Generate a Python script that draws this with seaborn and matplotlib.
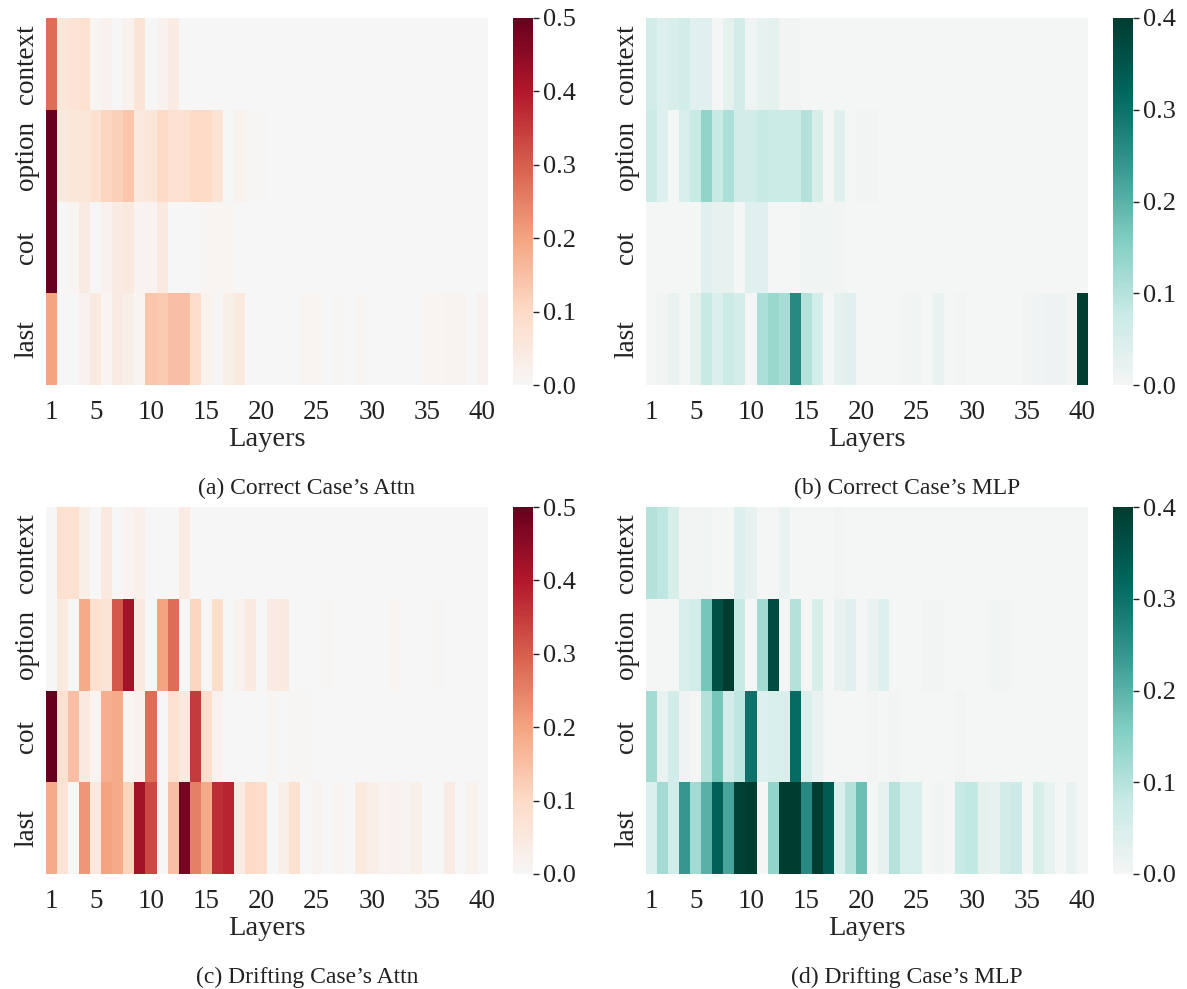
import numpy as np
import pandas as pd
import matplotlib
matplotlib.use("Agg")
import matplotlib.pyplot as plt
import seaborn as sns

sns.set_style("white")
plt.rcParams['font.family'] = ['Liberation Serif', 'DejaVu Serif']
plt.rcParams['text.color'] = '#222222'
plt.rcParams['xtick.color'] = '#222222'
plt.rcParams['ytick.color'] = '#222222'

# 数据
layers = list(range(1, 41))
positions = ["context", "option", "cot", "last"]
shown_layers = [1, 5, 10, 15, 20, 25, 30, 35, 40]

# (a) correct case attn
ca_context = [0.28, 0.06, 0.07, 0.08, 0.01, 0.02, 0, 0.02, 0.07, 0, 0.02, 0.04] + [0] * 28
ca_option = [0.5, 0.05, 0.06, 0.06, 0.08, 0.11, 0.12, 0.14, 0.05, 0.06,
             0.10, 0.08, 0.08, 0.10, 0.10, 0.07, 0, 0.02, 0.005, 0.005] + [0] * 20
ca_cot = [0.5, 0, 0.01, 0.04, 0, 0.02, 0.04, 0.05, 0.015, 0.015,
          0.05, 0, 0, 0, 0.01, 0.01, 0.01, 0, 0, 0] + [0] * 20
ca_last = [0.2, 0, 0, 0.02, 0.05, 0.01, 0.04, 0.03, 0.01, 0.14,
           0.13, 0.15, 0.15, 0.09, 0.02, 0.005, 0.03, 0.05, 0, 0,
           0, 0, 0, 0.01, 0.01, 0, 0.005, 0, 0.008, 0,
           0, 0, 0, 0, 0.01, 0.01, 0.015, 0.012, 0, 0.02]

# (b) correct case mlp
cm_context = [0.06, 0.04, 0.05, 0.06, 0.035, 0.035, 0, 0.03, 0.06, 0.01,
              0.025, 0.03, 0.005, 0.005] + [0] * 26
cm_option = [0.07, 0.04, 0, 0.05, 0.08, 0.14, 0.08, 0.11, 0.06, 0.06,
             0.08, 0.075, 0.075, 0.075, 0.10, 0.05, 0, 0.035, 0, 0.005,
             0.005] + [0] * 19
cm_cot = [0, 0, 0, 0.003, 0, 0.035, 0.025, 0.025, 0.003, 0.035,
          0.035, 0, 0, 0, 0.008, 0.008, 0.008, 0.005, 0, 0] + [0] * 20
cm_last = [0, 0.008, 0.02, 0, 0.03, 0.08, 0.045, 0.07, 0.055, 0,
           0.11, 0.13, 0.115, 0.26, 0.10, 0.055, 0, 0.03, 0.035, 0,
           0, 0, 0, 0.005, 0.008, 0, 0.02, 0, 0.005, 0,
           0, 0, 0.003, 0, 0.005, 0.01, 0.015, 0.015, 0.005, 0.4]

# (c) drifting case attn
da_context = [0, 0.08, 0.08, 0.03, 0, 0.05, 0, 0.015, 0.025, 0, 0, 0, 0.04] + [0] * 27
da_option = [0, 0.05, 0, 0.19, 0.08, 0.07, 0.31, 0.42, 0.05, 0,
             0.2, 0.28, 0, 0.11, 0, 0.09, 0, 0.02, 0.05, 0,
             0.04, 0.05, 0, 0, 0, 0.005, 0, 0, 0, 0,
             0, 0.01, 0, 0, 0, 0.005, 0, 0, 0, 0]
da_cot = [0.5, 0.08, 0.15, 0.05, 0.015, 0.18, 0.19, 0.01, 0.02, 0.28,
          0, 0.08, 0.05, 0.35, 0.09, 0.02, 0, 0, 0, 0,
          0.01, 0, 0.005, 0.005, 0, 0, 0, 0, 0.003, 0,
          0, 0, 0, 0, 0, 0, 0, 0.003, 0, 0]
da_last = [0.19, 0.07, 0, 0.22, 0.05, 0.2, 0.19, 0.11, 0.42, 0.33,
           0, 0.15, 0.48, 0.25, 0.19, 0.37, 0.38, 0.04, 0.1, 0.09,
           0, 0.03, 0.08, 0, 0.015, 0, 0.01, 0, 0.05, 0.035,
           0.015, 0.02, 0.015, 0.03, 0, 0, 0.04, 0, 0.02, 0]

# (d) drifting case mlp
dm_context = [0.1, 0.09, 0.05, 0.005, 0.005, 0.008, 0, 0, 0.04, 0.025,
              0, 0, 0.02, 0, 0, 0, 0, 0.005] + [0] * 22
dm_option = [0, 0, 0, 0.05, 0.06, 0.17, 0.36, 0.4, 0.08, 0,
             0.12, 0.37, 0, 0.1, 0, 0.05, 0, 0.02, 0.035, 0,
             0.02, 0.04, 0.003, 0, 0, 0.005, 0.005, 0, 0, 0,
             0, 0.008, 0.005, 0, 0, 0.003, 0, 0, 0, 0]
dm_cot = [0.12, 0.02, 0.06, 0.01, 0, 0.1, 0.17, 0.06, 0.09, 0.3,
          0.04, 0.05, 0.05, 0.31, 0.045, 0.02, 0, 0, 0, 0,
          0.005, 0, 0.005, 0, 0, 0, 0, 0, 0.005, 0,
          0, 0, 0, 0, 0, 0, 0, 0.003, 0, 0]
dm_last = [0.045, 0.12, 0.06, 0.24, 0.12, 0.2, 0.33, 0.22, 0.39, 0.42,
           0, 0.14, 0.44, 0.40, 0.26, 0.42, 0.34, 0.045, 0.1, 0.18,
           0, 0.025, 0.1, 0.05, 0.05, 0, 0.008, 0, 0.08, 0.085,
           0.03, 0.025, 0.06, 0.07, 0, 0.05, 0.025, 0, 0.02, 0]

panels = [
    ([ca_context, ca_option, ca_cot, ca_last], "RdBu_r", 0.5, "(a) Correct Case\u2019s Attn"),
    ([cm_context, cm_option, cm_cot, cm_last], "BrBG", 0.4, "(b) Correct Case\u2019s MLP"),
    ([da_context, da_option, da_cot, da_last], "RdBu_r", 0.5, "(c) Drifting Case\u2019s Attn"),
    ([dm_context, dm_option, dm_cot, dm_last], "BrBG", 0.4, "(d) Drifting Case\u2019s MLP"),
]

W, H = 1187, 989
fig = plt.figure(figsize=(W / 100, H / 100), dpi=100)

# 像素布局 (left, top) for each heatmap
hm_left = [46, 646, 46, 646]
hm_top = [18, 18, 507, 507]
hm_w, hm_h = 442, 367
cb_off, cb_w = 467, 20
cap_x = [307, 907, 307, 907]
cap_y = [488, 488, 977, 977]

xlabels = [str(l) if l in shown_layers else "" for l in layers]

for i, (rows, cmap, vmax, caption) in enumerate(panels):
    df = pd.DataFrame(rows, index=positions, columns=layers)
    ax = fig.add_axes([hm_left[i] / W, 1 - (hm_top[i] + hm_h) / H, hm_w / W, hm_h / H])
    cax = fig.add_axes([(hm_left[i] + cb_off) / W, 1 - (hm_top[i] + hm_h) / H, cb_w / W, hm_h / H])
    sns.heatmap(df, ax=ax, cbar_ax=cax, cmap=cmap, center=0, vmin=0, vmax=vmax,
                xticklabels=xlabels, yticklabels=positions)
    ax.tick_params(axis='x', length=0, labelsize=19.5, pad=11)
    ax.tick_params(axis='y', length=0, labelsize=19.5, pad=5)
    ax.set_yticklabels(positions, rotation=90, va='center')
    ax.set_xticklabels(xlabels, rotation=0)
    ax.set_xlabel("Layers", fontsize=20.5, labelpad=1)
    ax.set_ylabel("")
    cax.tick_params(labelsize=19, length=4, width=1)
    cax.yaxis.set_major_formatter(matplotlib.ticker.FormatStrFormatter('%.1f'))
    fig.text(cap_x[i] / W, 1 - cap_y[i] / H, caption, ha='center', va='center', fontsize=17)

plt.savefig('out.png', dpi=100)
